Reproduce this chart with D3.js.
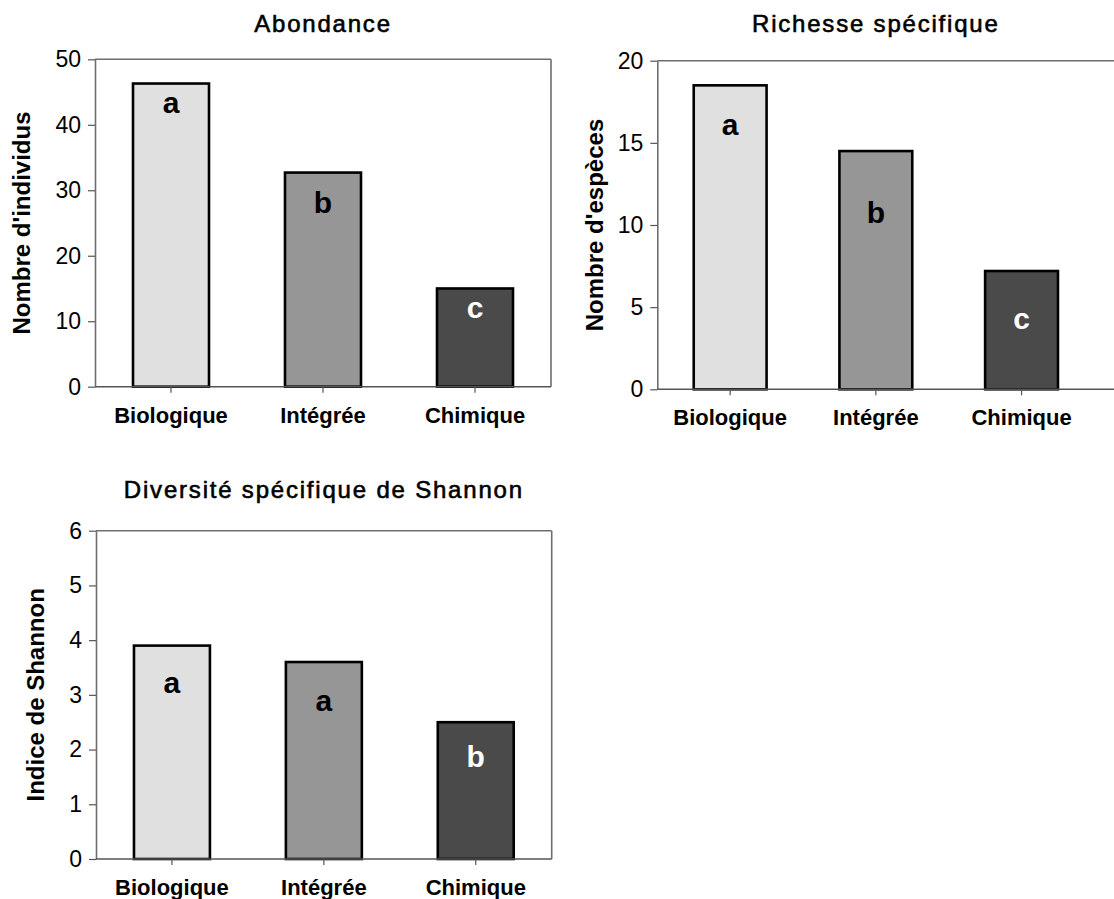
<!DOCTYPE html>
<html>
<head>
<meta charset="utf-8">
<script src="https://cdn.jsdelivr.net/npm/d3@7"></script>
<style>
  html, body { margin: 0; padding: 0; background: #fff; }
  svg { display: block; }
  text { font-family: "Liberation Sans", Arial, sans-serif; }
</style>
</head>
<body>
<svg id="chart" width="1114" height="899"></svg>
<script>
// ---- Data ----
const categories = ["Biologique", "Intégrée", "Chimique"];

const abondanceValues = [46.3, 32.7, 15.0];
const richesseValues = [18.5, 14.5, 7.2];
const shannonValues = [3.9, 3.6, 2.5];

const abondanceLetters = ["a", "b", "c"];
const richesseLetters = ["a", "b", "c"];
const shannonLetters = ["a", "a", "b"];

// level (in data units) of each letter's baseline
const abondanceLetterLevels = [41.8, 26.6, 10.5];
const richesseLetterLevels = [15.5, 10.1, 3.7];
const shannonLetterLevels = [3.03, 2.7, 1.68];

const abondanceTicks = [0, 10, 20, 30, 40, 50];
const richesseTicks = [0, 5, 10, 15, 20];
const shannonTicks = [0, 1, 2, 3, 4, 5, 6];

const titles = ["Abondance", "Richesse spécifique", "Diversité spécifique de Shannon"];
const yLabels = ["Nombre d'individus", "Nombre d'espèces", "Indice de Shannon"];

const barColors = ["#e0e0e0", "#969696", "#4a4a4a"];
const letterColors = ["#000000", "#000000", "#ffffff"];

// ---- Layout ----
const panels = [
  { values: abondanceValues, letters: abondanceLetters, levels: abondanceLetterLevels, ticks: abondanceTicks,
    title: titles[0], yLabel: yLabels[0],
    left: 95, top: 59.3, bottom: 386.7, right: 551, frameRight: 551, rightBorder: true, titleY: 32, yLabelX: 29.5 },
  { values: richesseValues, letters: richesseLetters, levels: richesseLetterLevels, ticks: richesseTicks,
    title: titles[1], yLabel: yLabels[1],
    left: 657.3, top: 60.7, bottom: 389.3, right: 1094.4, frameRight: 1120, rightBorder: false, titleY: 32, yLabelX: 603 },
  { values: shannonValues, letters: shannonLetters, levels: shannonLetterLevels, ticks: shannonTicks,
    title: titles[2], yLabel: yLabels[2],
    left: 96, top: 530.7, bottom: 859, right: 551.7, frameRight: 551.7, rightBorder: true, titleY: 498, yLabelX: 44 }
];

const svg = d3.select("#chart");

panels.forEach(p => {
  const g = svg.append("g");
  const x = d3.scaleBand().domain(categories).range([p.left, p.right])
    .paddingInner(0.5).paddingOuter(0.25);
  const yMax = p.ticks[p.ticks.length - 1];
  const y = d3.scaleLinear().domain([0, yMax]).range([p.bottom, p.top]);

  // frame: top + right border
  g.append("line").attr("x1", p.left).attr("x2", p.frameRight)
    .attr("y1", p.top).attr("y2", p.top)
    .attr("stroke", "#6e6e6e").attr("stroke-width", 1.6);
  if (p.rightBorder) {
    g.append("line").attr("x1", p.frameRight).attr("x2", p.frameRight)
      .attr("y1", p.top).attr("y2", p.bottom)
      .attr("stroke", "#6e6e6e").attr("stroke-width", 1.6);
  }

  // bars
  g.selectAll("rect.bar").data(p.values).join("rect")
    .attr("class", "bar")
    .attr("x", (d, i) => x(categories[i]))
    .attr("width", x.bandwidth())
    .attr("y", d => y(d))
    .attr("height", d => y(0) - y(d))
    .attr("fill", (d, i) => barColors[i])
    .attr("stroke", "#000")
    .attr("stroke-width", 2.6);

  // y axis
  const ya = g.append("g").attr("transform", `translate(${p.left},0)`)
    .call(d3.axisLeft(y).tickValues(p.ticks).tickFormat(d3.format("d"))
      .tickSize(7).tickSizeOuter(0).tickPadding(7));
  ya.select(".domain").attr("stroke", "#6e6e6e").attr("stroke-width", 1.6);
  ya.selectAll(".tick line").attr("stroke", "#555").attr("stroke-width", 1.2);
  ya.selectAll(".tick text").attr("font-size", 23).attr("fill", "#000")
    .attr("font-family", "Liberation Sans, Arial, sans-serif");

  // x axis
  const xa = g.append("g").attr("transform", `translate(0,${p.bottom})`)
    .call(d3.axisBottom(x).tickSize(6).tickSizeOuter(0));
  xa.select(".domain").remove();
  g.append("line").attr("x1", p.left).attr("x2", p.frameRight)
    .attr("y1", p.bottom).attr("y2", p.bottom)
    .attr("stroke", "#555").attr("stroke-width", 1.6);
  xa.selectAll(".tick line").attr("stroke", "#555").attr("stroke-width", 1.2);
  xa.selectAll(".tick text").attr("y", 36).attr("dy", 0)
    .attr("font-size", 22).attr("font-weight", "bold").attr("fill", "#000")
    .attr("font-family", "Liberation Sans, Arial, sans-serif");

  // significance letters
  g.selectAll("text.letter").data(p.letters).join("text")
    .attr("class", "letter")
    .attr("x", (d, i) => x(categories[i]) + x.bandwidth() / 2)
    .attr("y", (d, i) => y(p.levels[i]))
    .attr("text-anchor", "middle")
    .attr("font-size", 30).attr("font-weight", "bold")
    .attr("fill", (d, i) => letterColors[i])
    .text(d => d);

  // title
  g.append("text")
    .attr("x", (p.left + p.right) / 2)
    .attr("y", p.titleY)
    .attr("text-anchor", "middle")
    .attr("font-size", 24)
    .attr("letter-spacing", 1.8)
    .attr("fill", "#000")
    .attr("stroke", "#000")
    .attr("stroke-width", 0.6)
    .text(p.title);

  // y label
  g.append("text")
    .attr("transform", `translate(${p.yLabelX},${(p.top + p.bottom) / 2}) rotate(-90)`)
    .attr("text-anchor", "middle")
    .attr("font-size", 24).attr("font-weight", "bold")
    .attr("fill", "#000")
    .text(p.yLabel);
});
</script>
</body>
</html>
